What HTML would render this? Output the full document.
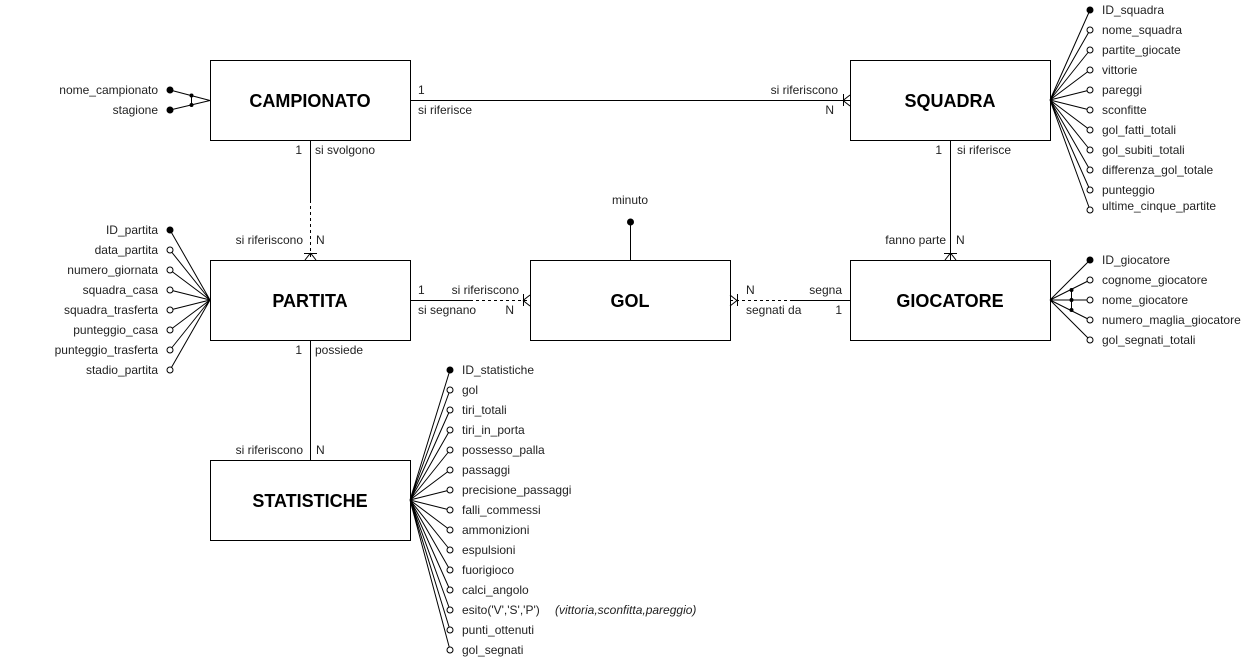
<!DOCTYPE html>
<html><head><meta charset="utf-8"><style>
html,body{margin:0;padding:0;background:#fff;}
svg{display:block;font-family:"Liberation Sans",Arial,sans-serif;font-size:12px;}
.t{font-size:18px;font-weight:bold;}
</style></head><body>
<svg width="1251" height="661" viewBox="0 0 1251 661" xmlns="http://www.w3.org/2000/svg">
<g fill="#fff" stroke="#000" stroke-width="1">
<rect x="210.5" y="60.5" width="200" height="80"/>
<rect x="850.5" y="60.5" width="200" height="80"/>
<rect x="210.5" y="260.5" width="200" height="80"/>
<rect x="530.5" y="260.5" width="200" height="80"/>
<rect x="850.5" y="260.5" width="200" height="80"/>
<rect x="210.5" y="460.5" width="200" height="80"/>
</g>
<g class="t" text-anchor="middle" fill="#000">
<text x="310" y="107" class="t">CAMPIONATO</text>
<text x="950" y="107" class="t">SQUADRA</text>
<text x="310" y="307" class="t">PARTITA</text>
<text x="630" y="307" class="t">GOL</text>
<text x="950" y="307" class="t">GIOCATORE</text>
<text x="310" y="507" class="t">STATISTICHE</text>
</g>
<g stroke="#000" fill="none" stroke-width="1">
<path d="M410 100.5H850 M843.5 94V106 M843 100.5L850 95 M843 100.5L850 106"/>
<path d="M310.5 140V200"/>
<path d="M310.5 200V260" stroke-dasharray="3,3"/>
<path d="M304 253.5H317 M310.5 253L305 260 M310.5 253L316 260"/>
<path d="M410 300.5H470"/>
<path d="M470 300.5H530" stroke-dasharray="3,3"/>
<path d="M523.5 294V306 M523 300.5L530 295 M523 300.5L530 306"/>
<path d="M730 300.5H790" stroke-dasharray="3,3"/>
<path d="M790 300.5H850"/>
<path d="M737.5 294V306 M737 300.5L730 295 M737 300.5L730 306"/>
<path d="M950.5 140V260 M944 253.5H957 M950.5 253L945 260 M950.5 253L956 260"/>
<path d="M310.5 340V460"/>
<path d="M630.5 222V260"/>
<path d="M170 90L210 100.5 M170 110L210 100.5 M191.5 95V105"/>
<path d="M1050 100L1090 10 M1050 100L1090 30 M1050 100L1090 50 M1050 100L1090 70 M1050 100L1090 90 M1050 100L1090 110 M1050 100L1090 130 M1050 100L1090 150 M1050 100L1090 170 M1050 100L1090 190 M1050 100L1090 210"/>
<path d="M210 300L170 230 M210 300L170 250 M210 300L170 270 M210 300L170 290 M210 300L170 310 M210 300L170 330 M210 300L170 350 M210 300L170 370"/>
<path d="M1050 300L1090 260 M1050 300L1090 280 M1050 300L1090 300 M1050 300L1090 320 M1050 300L1090 340 M1071.5 290V310"/>
<path d="M410 500L450 370 M410 500L450 390 M410 500L450 410 M410 500L450 430 M410 500L450 450 M410 500L450 470 M410 500L450 490 M410 500L450 510 M410 500L450 530 M410 500L450 550 M410 500L450 570 M410 500L450 590 M410 500L450 610 M410 500L450 630 M410 500L450 650"/>
</g>
<g fill="#000">
<circle cx="170" cy="90" r="3.5"/><circle cx="170" cy="110" r="3.5"/>
<circle cx="191.5" cy="95.5" r="2"/><circle cx="191.5" cy="105" r="2"/>
<circle cx="1090" cy="10" r="3.5"/>
<circle cx="170" cy="230" r="3.5"/>
<circle cx="1090" cy="260" r="3.5"/>
<circle cx="1071.5" cy="290" r="2"/><circle cx="1071.5" cy="300" r="2"/><circle cx="1071.5" cy="310" r="2"/>
<circle cx="450" cy="370" r="3.5"/>
<circle cx="630.5" cy="222" r="3.5"/>
</g>
<g fill="#fff" stroke="#000">
<circle cx="1090" cy="30" r="3"/><circle cx="1090" cy="50" r="3"/><circle cx="1090" cy="70" r="3"/><circle cx="1090" cy="90" r="3"/><circle cx="1090" cy="110" r="3"/><circle cx="1090" cy="130" r="3"/><circle cx="1090" cy="150" r="3"/><circle cx="1090" cy="170" r="3"/><circle cx="1090" cy="190" r="3"/><circle cx="1090" cy="210" r="3"/>
<circle cx="170" cy="250" r="3"/><circle cx="170" cy="270" r="3"/><circle cx="170" cy="290" r="3"/><circle cx="170" cy="310" r="3"/><circle cx="170" cy="330" r="3"/><circle cx="170" cy="350" r="3"/><circle cx="170" cy="370" r="3"/>
<circle cx="1090" cy="280" r="3"/><circle cx="1090" cy="300" r="3"/><circle cx="1090" cy="320" r="3"/><circle cx="1090" cy="340" r="3"/>
<circle cx="450" cy="390" r="3"/><circle cx="450" cy="410" r="3"/><circle cx="450" cy="430" r="3"/><circle cx="450" cy="450" r="3"/><circle cx="450" cy="470" r="3"/><circle cx="450" cy="490" r="3"/><circle cx="450" cy="510" r="3"/><circle cx="450" cy="530" r="3"/><circle cx="450" cy="550" r="3"/><circle cx="450" cy="570" r="3"/><circle cx="450" cy="590" r="3"/><circle cx="450" cy="610" r="3"/><circle cx="450" cy="630" r="3"/><circle cx="450" cy="650" r="3"/>
</g>
<g fill="#222">
<text x="158" y="94" text-anchor="end">nome_campionato</text>
<text x="158" y="114" text-anchor="end">stagione</text>
<text x="1102" y="14">ID_squadra</text>
<text x="1102" y="34">nome_squadra</text>
<text x="1102" y="54">partite_giocate</text>
<text x="1102" y="74">vittorie</text>
<text x="1102" y="94">pareggi</text>
<text x="1102" y="114">sconfitte</text>
<text x="1102" y="134">gol_fatti_totali</text>
<text x="1102" y="154">gol_subiti_totali</text>
<text x="1102" y="174">differenza_gol_totale</text>
<text x="1102" y="194">punteggio</text>
<text x="1102" y="210">ultime_cinque_partite</text>
<text x="158" y="234" text-anchor="end">ID_partita</text>
<text x="158" y="254" text-anchor="end">data_partita</text>
<text x="158" y="274" text-anchor="end">numero_giornata</text>
<text x="158" y="294" text-anchor="end">squadra_casa</text>
<text x="158" y="314" text-anchor="end">squadra_trasferta</text>
<text x="158" y="334" text-anchor="end">punteggio_casa</text>
<text x="158" y="354" text-anchor="end">punteggio_trasferta</text>
<text x="158" y="374" text-anchor="end">stadio_partita</text>
<text x="1102" y="264">ID_giocatore</text>
<text x="1102" y="284">cognome_giocatore</text>
<text x="1102" y="304">nome_giocatore</text>
<text x="1102" y="324">numero_maglia_giocatore</text>
<text x="1102" y="344">gol_segnati_totali</text>
<text x="462" y="374">ID_statistiche</text>
<text x="462" y="394">gol</text>
<text x="462" y="414">tiri_totali</text>
<text x="462" y="434">tiri_in_porta</text>
<text x="462" y="454">possesso_palla</text>
<text x="462" y="474">passaggi</text>
<text x="462" y="494">precisione_passaggi</text>
<text x="462" y="514">falli_commessi</text>
<text x="462" y="534">ammonizioni</text>
<text x="462" y="554">espulsioni</text>
<text x="462" y="574">fuorigioco</text>
<text x="462" y="594">calci_angolo</text>
<text x="462" y="614">esito('V','S','P')</text>
<text x="555" y="614" font-style="italic">(vittoria,sconfitta,pareggio)</text>
<text x="462" y="634">punti_ottenuti</text>
<text x="462" y="654">gol_segnati</text>
<text x="630" y="204" text-anchor="middle">minuto</text>
<text x="418" y="94">1</text>
<text x="418" y="114">si riferisce</text>
<text x="838" y="94" text-anchor="end">si riferiscono</text>
<text x="834" y="114" text-anchor="end">N</text>
<text x="302" y="154" text-anchor="end">1</text>
<text x="315" y="154">si svolgono</text>
<text x="303" y="244" text-anchor="end">si riferiscono</text>
<text x="316" y="244">N</text>
<text x="418" y="294">1</text>
<text x="418" y="314">si segnano</text>
<text x="519" y="294" text-anchor="end">si riferiscono</text>
<text x="514" y="314" text-anchor="end">N</text>
<text x="746" y="294">N</text>
<text x="746" y="314">segnati da</text>
<text x="842" y="294" text-anchor="end">segna</text>
<text x="842" y="314" text-anchor="end">1</text>
<text x="942" y="154" text-anchor="end">1</text>
<text x="957" y="154">si riferisce</text>
<text x="946" y="244" text-anchor="end">fanno parte</text>
<text x="956" y="244">N</text>
<text x="302" y="354" text-anchor="end">1</text>
<text x="315" y="354">possiede</text>
<text x="303" y="454" text-anchor="end">si riferiscono</text>
<text x="316" y="454">N</text>
</g>
</svg>
</body></html>
